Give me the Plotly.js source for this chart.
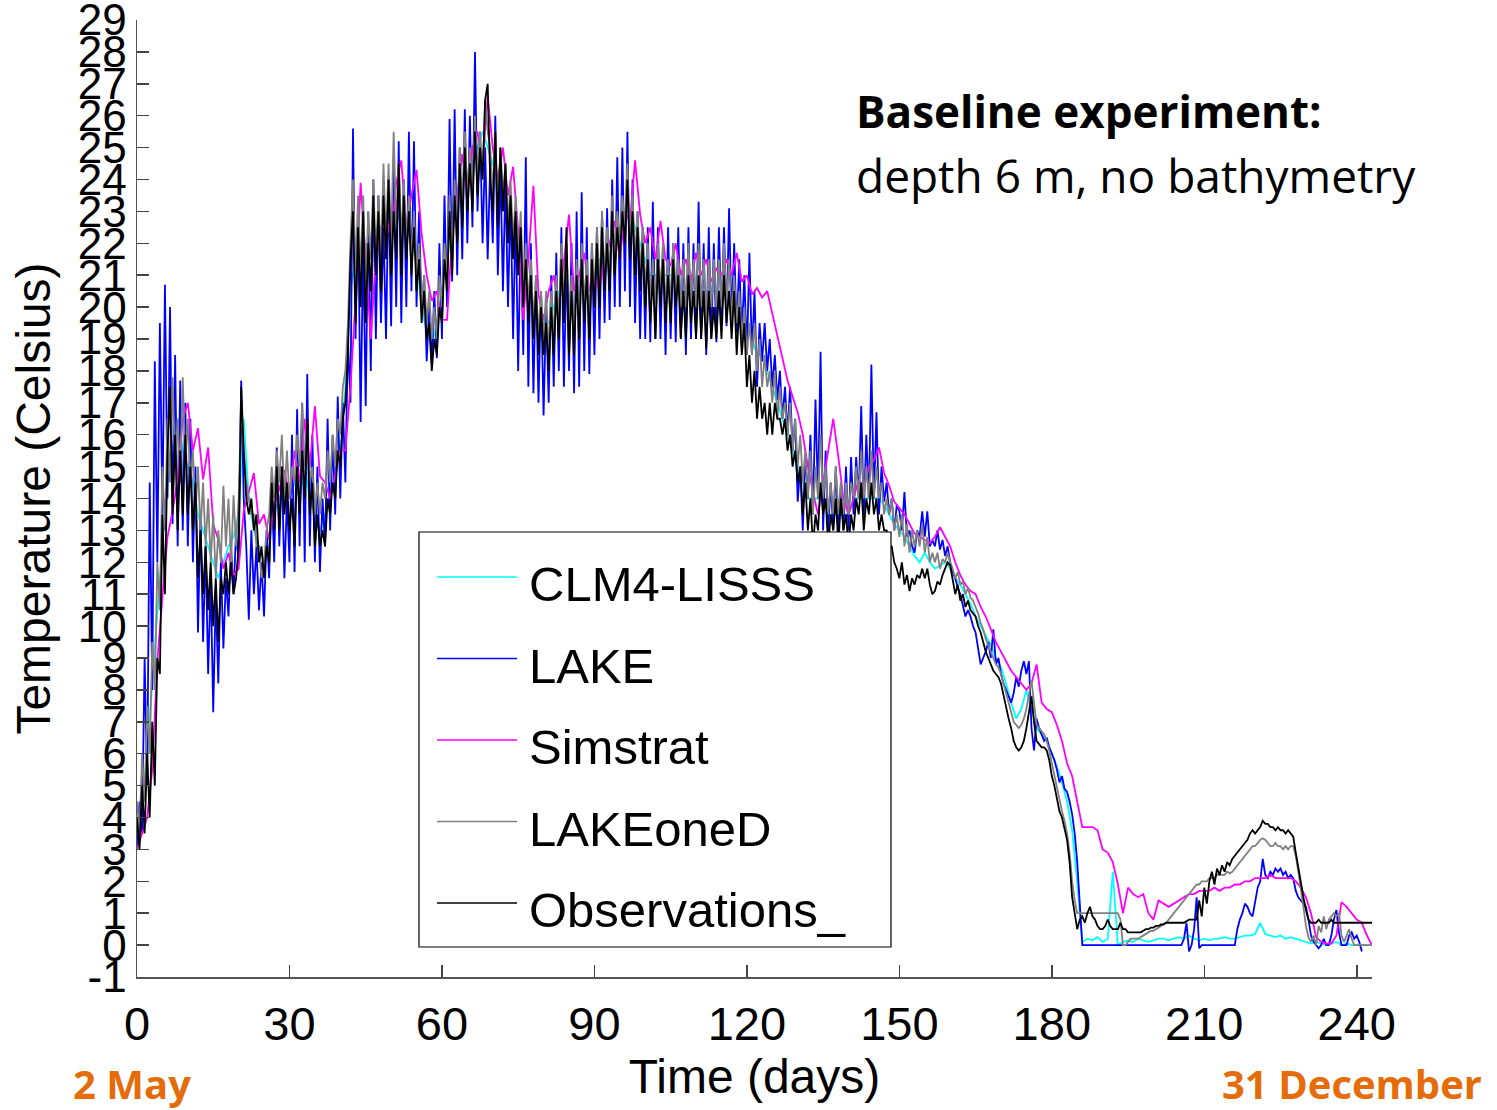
<!DOCTYPE html>
<html>
<head>
<meta charset="utf-8">
<script src="https://cdn.plot.ly/plotly-3.0.1.min.js"></script>
<style>
  html, body { margin: 0; padding: 0; background: #ffffff; }
  #chart { width: 1497px; height: 1110px; }
</style>
</head>
<body>
<div id="chart"></div>
<script>
// Lake surface water temperature, 2 May (day 0) to 31 December (day 243)
const seriesNames = ['CLM4-LISSS', 'LAKE', 'Simstrat', 'LAKEoneD', 'Observations_'];
const seriesColors = ['#00FFFF', '#0000FF', '#FF00FF', '#808080', '#000000'];

const xTickVals = [0, 30, 60, 90, 120, 150, 180, 210, 240];
const yTickVals = [-1, 0, 1, 2, 3, 4, 5, 6, 7, 8, 9, 10, 11, 12, 13, 14, 15, 16, 17, 18, 19, 20, 21, 22, 23, 24, 25, 26, 27, 28, 29];
const yTickText = ['-1', '0', '1', '2', '3', '4', '5', '6', '7', '8', '9', '10', '11', '12', '13', '14', '15', '16', '17', '18', '19', '20', '21', '22', '23', '24', '25', '26', '27', '28', '29'];

// CLM4-LISSS, one value per day
const clm4 = [
  3.5,4.5,6.0,8.3,10.4,12.5,14.5,15.5,16.5,15.5,
  15.0,14.5,13.5,13.0,12.5,12.0,11.5,12.0,12.5,12.8,
  13.5,16.5,14.0,13.0,12.5,12.0,12.5,13.5,14.0,14.5,
  14.0,14.5,14.0,15.0,14.0,13.5,13.0,13.5,14.0,15.0,
  15.5,17.5,20.5,21.5,21.0,22.0,21.5,22.5,22.0,23.0,
  22.5,23.0,22.5,22.5,22.0,21.5,20.0,19.2,18.8,19.5,
  20.5,21.5,22.5,23.5,24.0,24.0,24.5,25.0,25.5,25.0,
  24.5,24.0,23.5,23.0,22.5,22.0,21.0,20.5,20.0,19.5,
  19.5,19.5,20.0,20.5,20.5,20.0,20.0,20.5,20.5,20.5,
  21.0,21.5,21.5,22.0,22.0,22.5,23.0,23.0,22.5,22.0,
  21.5,21.0,21.0,21.0,21.0,21.0,21.0,20.5,20.5,20.5,
  20.5,20.5,20.5,20.5,20.5,20.5,20.5,20.5,20.0,20.0,
  19.5,19.0,18.5,18.5,18.0,17.5,17.0,16.5,16.0,15.5,
  15.0,14.5,14.0,14.0,14.0,14.0,13.5,13.5,13.5,13.5,
  13.5,14.0,14.0,14.0,14.0,14.0,14.0,13.8,13.5,13.2,
  13.0,12.8,12.5,12.2,12.0,12.3,12.0,11.8,11.9,12.0,
  11.8,11.5,11.3,11.0,10.7,10.3,10.0,9.7,9.4,9.0,
  8.7,8.2,7.6,7.1,7.4,8.0,7.4,6.8,6.6,6.4,
  6.0,5.6,5.1,4.5,3.6,2.0,0.1,0.2,0.15,0.25,
  0.1,0.2,2.3,0.0,0.1,0.15,0.1,0.2,0.15,0.1,
  0.15,0.2,0.2,0.15,0.2,0.25,0.2,0.3,0.2,0.15,
  0.2,0.15,0.2,0.2,0.25,0.2,0.2,0.25,0.3,0.3,
  0.35,0.7,0.35,0.3,0.25,0.3,0.2,0.25,0.2,0.15,
  0.1,0.05,0.1,0.05,0.0,0.05,0.1,0.0,0.05,0.0,
  0.0,0.0,0.0,0.0
];

// LAKE, two values per day
const lake = [
  3.0,4.5,3.5,9.0,5.0,14.5,8.0,18.3,12.0,19.5,
  13.5,20.7,14.0,20.0,13.2,18.5,12.5,17.7,13.0,17.0,
  12.5,16.5,12.0,15.0,9.8,13.5,9.5,12.5,8.5,11.5,
  7.3,11.0,8.2,12.0,9.3,11.5,10.3,12.5,11.0,13.0,
  12.0,17.7,14.0,12.5,10.2,13.0,11.0,12.5,10.5,12.0,
  10.3,13.0,11.5,14.5,12.0,15.6,12.5,15.0,11.5,14.0,
  12.0,16.0,11.7,16.8,12.5,17.0,12.0,17.9,12.5,16.0,
  12.0,15.0,11.7,14.0,12.5,16.5,13.0,16.0,13.5,17.2,
  14.0,17.0,14.5,19.0,17.0,25.6,19.0,23.0,16.4,22.0,
  16.9,23.0,18.0,24.0,19.0,23.5,19.5,22.5,19.0,24.0,
  19.4,24.5,20.0,25.2,19.5,24.0,20.0,25.5,20.5,25.2,
  20.0,23.0,19.8,21.0,18.3,20.0,18.2,20.5,18.4,22.0,
  19.0,23.5,20.0,25.9,20.8,26.2,21.0,25.0,21.5,26.2,
  22.0,26.0,22.5,28.0,23.0,25.5,22.0,25.0,21.5,24.5,
  22.0,26.0,21.0,24.5,20.5,24.0,20.0,23.5,19.0,23.0,
  18.0,22.5,18.5,24.7,17.5,22.0,17.3,21.0,17.0,20.5,
  16.6,20.0,17.0,21.0,17.5,21.7,18.0,22.5,17.5,21.5,
  18.0,22.0,17.3,23.0,17.5,23.6,18.0,22.5,17.9,22.0,
  18.5,22.5,19.0,23.0,19.5,23.1,19.6,24.0,20.0,24.7,
  20.0,25.0,20.5,25.5,20.0,24.0,19.5,23.0,19.0,22.5,
  19.0,22.5,18.9,23.3,19.0,22.5,19.0,22.0,18.5,22.5,
  19.0,22.0,18.9,22.5,19.0,22.0,18.5,22.5,19.0,22.0,
  19.0,23.3,19.0,22.0,18.5,22.5,19.0,22.0,18.9,22.5,
  19.5,22.5,19.4,23.1,19.5,22.0,19.2,21.5,19.0,21.0,
  18.5,21.7,18.5,20.5,17.5,19.5,18.3,19.5,18.0,19.0,
  17.5,18.5,17.1,18.0,16.5,17.5,16.0,17.5,15.5,16.5,
  13.9,15.0,13.0,15.4,14.0,16.0,13.5,17.1,14.0,18.6,
  13.0,15.5,13.0,14.5,13.0,15.0,12.8,14.5,13.0,15.0,
  13.0,15.3,13.5,15.3,14.0,16.9,13.5,16.0,14.0,18.2,
  14.0,16.7,13.5,15.0,13.9,14.5,13.5,14.0,13.0,13.8,
  13.6,13.0,14.2,12.8,13.0,12.5,12.3,13.0,12.8,13.6,
  12.8,13.6,12.5,12.7,12.5,13.0,12.4,12.7,12.2,12.5,
  12.0,11.7,11.5,11.2,11.0,10.6,10.3,10.5,10.3,10.0,
  9.8,9.3,8.8,9.0,9.2,9.5,9.0,9.9,8.8,9.0,
  8.5,8.2,8.0,7.8,7.6,7.9,8.4,8.1,8.6,8.9,
  8.5,8.9,6.8,6.1,7.1,6.8,6.6,6.4,6.5,6.2,
  6.0,5.8,5.5,5.1,5.3,4.9,4.8,4.5,4.1,3.5,
  2.6,1.2,0.0,0.0,0.0,0.0,0.0,0.0,0.0,0.0,
  0.0,0.0,0.0,0.0,0.0,0.0,0.0,0.0,0.0,0.0,
  0.0,0.0,0.0,0.0,0.0,0.0,0.0,0.0,0.0,0.0,
  0.0,0.0,0.0,0.0,0.0,0.0,0.0,0.0,0.0,0.0,
  0.0,0.0,0.2,0.7,-0.2,0.0,0.5,1.5,-0.1,0.0,
  0.0,0.0,0.0,0.0,0.0,0.0,0.0,0.0,0.0,0.0,
  0.0,0.0,0.0,0.5,0.8,1.0,1.3,1.2,1.0,0.9,
  1.4,1.8,2.0,2.7,2.2,2.1,2.3,2.2,2.4,2.3,
  2.4,2.2,2.3,2.1,2.2,2.1,1.7,1.5,1.4,1.3,
  1.2,0.8,0.3,0.1,0.0,-0.1,0.0,0.2,0.0,0.0,
  0.3,0.8,1.1,0.4,0.0,0.0,0.0,0.3,0.4,0.2,
  0.3,0.1,-0.2,null,null,null,null
];

// Simstrat, one value per day
const simstrat = [
  3.0,3.5,4.0,5.5,8.9,10.9,12.8,13.6,14.6,16.5,
  17.0,15.5,16.2,14.6,15.6,13.2,12.7,11.8,12.3,11.6,
  11.8,13.6,14.2,14.8,13.2,13.5,12.7,13.8,14.3,14.9,
  14.0,15.5,14.5,16.5,15.0,16.9,14.7,14.5,14.0,14.8,
  15.5,15.5,17.5,20.2,23.9,21.5,19.0,21.6,22.5,23.0,
  22.0,23.9,24.6,22.5,23.5,24.3,22.3,21.0,20.2,20.5,
  19.6,19.6,22.2,23.5,24.8,23.5,25.0,25.5,24.5,26.6,
  25.0,24.0,25.0,23.5,24.4,22.4,19.6,21.5,23.8,20.4,
  19.6,20.5,21.0,20.0,21.5,22.9,20.5,21.0,21.7,20.5,
  21.0,20.5,21.5,22.0,22.7,21.5,23.0,22.7,24.6,22.9,
  22.0,22.5,21.5,22.7,21.5,21.3,22.0,21.0,21.5,20.8,
  21.7,21.0,21.5,20.8,21.2,21.0,21.5,21.0,21.7,20.8,
  21.0,20.4,20.6,20.3,20.5,19.8,19.2,18.5,17.7,17.2,
  16.7,16.0,15.0,14.2,13.5,14.5,15.5,16.5,15.3,14.0,
  13.5,14.0,14.6,14.3,15.0,15.2,15.6,14.8,14.4,13.9,
  13.7,13.5,13.2,12.9,12.8,12.7,12.6,12.8,13.1,12.8,
  12.5,12.0,11.6,11.3,11.1,11.0,10.6,10.3,9.9,9.5,
  9.2,8.9,8.6,8.4,8.2,8.0,8.2,8.8,7.6,7.4,
  7.3,6.9,6.4,5.7,5.3,4.5,3.7,3.7,3.7,3.6,
  3.0,2.9,2.6,1.9,1.0,1.8,1.6,1.5,1.6,1.0,
  0.8,1.4,1.3,1.2,1.3,1.4,1.5,1.6,1.6,1.7,
  1.7,1.7,1.8,1.7,1.8,1.8,1.9,1.9,2.0,2.0,
  2.1,2.1,2.1,2.2,2.1,2.1,2.1,2.1,2.0,1.8,
  1.5,1.0,0.25,0.1,0.05,0.05,0.3,1.35,1.2,1.0,
  0.8,0.7,0.3,0.0
];

// LAKEoneD, two values per day
const lakeOneD = [
  4.5,3.5,6.0,4.5,7.5,6.0,9.5,8.0,12.0,10.5,
  15.0,13.0,16.5,14.5,17.8,15.0,16.5,14.5,17.8,15.0,
  16.5,14.5,15.5,13.5,15.0,13.0,14.5,12.5,14.0,12.0,
  13.5,11.5,13.0,12.0,14.4,12.5,14.0,12.0,14.1,12.5,
  14.0,17.0,15.5,14.5,14.0,13.5,13.5,12.5,12.5,11.5,
  12.0,13.0,13.5,15.0,14.0,15.5,14.5,16.0,14.0,15.5,
  14.0,15.0,14.5,16.0,15.0,17.0,15.0,16.0,14.5,15.0,
  13.5,14.5,13.5,14.5,14.0,15.5,14.5,16.0,15.0,16.5,
  16.0,17.5,18.0,19.5,22.0,24.0,21.0,23.5,21.0,23.5,
  20.5,23.0,21.5,24.0,21.5,23.5,21.5,24.5,22.0,24.5,
  22.0,25.5,22.5,24.5,22.0,24.0,22.0,23.5,21.5,23.0,
  21.0,22.0,20.0,21.0,19.5,20.5,19.0,20.0,19.0,21.0,
  20.0,22.0,21.0,23.5,21.5,24.0,22.5,25.0,23.0,25.5,
  23.5,25.0,23.5,26.0,24.0,25.5,24.0,26.5,25.5,25.0,
  23.5,25.5,23.0,25.0,23.5,24.5,22.5,24.0,22.0,23.5,
  21.5,23.0,20.5,22.0,20.0,21.5,19.5,21.0,19.0,20.5,
  19.0,20.5,18.5,20.5,19.0,21.0,19.5,22.0,20.0,22.0,
  19.5,21.0,19.0,21.5,19.5,22.0,20.0,21.5,19.5,22.0,
  20.5,22.5,20.5,23.0,21.0,22.5,21.0,23.5,21.5,23.0,
  22.0,23.5,22.5,24.5,22.0,23.5,21.5,23.0,21.0,22.5,
  20.5,22.0,20.0,21.5,20.0,22.0,20.5,22.0,20.0,21.5,
  20.0,22.0,20.5,21.5,20.0,21.5,20.0,22.0,20.0,21.5,
  20.0,22.0,20.0,21.5,19.5,21.5,20.0,21.5,20.0,21.5,
  20.0,22.0,20.0,21.5,19.5,21.0,19.5,20.5,19.0,20.0,
  18.5,19.5,18.5,19.5,18.0,19.0,17.5,18.5,17.5,18.0,
  17.0,18.0,16.5,17.5,16.5,17.0,16.0,17.0,15.5,16.5,
  15.0,16.0,14.5,15.5,14.0,15.5,13.5,15.0,14.0,16.0,
  14.0,15.0,13.5,14.5,13.5,15.0,13.5,14.5,13.5,14.5,
  13.5,14.5,14.0,15.0,14.0,15.5,14.0,15.0,14.0,15.5,
  14.0,15.0,14.0,14.5,13.5,14.0,13.5,14.0,13.0,13.5,
  12.8,13.5,12.5,13.2,12.3,13.0,12.5,13.0,12.5,13.2,
  12.3,12.8,12.0,12.3,12.0,12.3,11.8,12.1,12.0,12.3,
  12.0,11.8,11.5,11.7,11.3,11.4,11.0,11.2,10.9,10.8,
  10.6,10.4,10.1,9.9,9.6,9.4,9.2,9.0,8.8,8.7,
  8.5,8.2,7.9,7.6,7.3,7.0,6.9,6.8,6.9,7.1,
  7.4,7.8,8.3,7.6,6.9,6.8,6.7,6.6,6.4,6.1,
  5.7,5.3,4.9,4.5,4.2,3.9,3.5,2.9,2.0,1.4,
  1.0,1.0,1.0,1.0,1.0,1.0,1.0,1.0,1.0,1.0,
  1.0,1.0,1.0,1.0,1.0,1.0,1.0,0.8,0.0,0.0,
  0.1,0.2,0.2,0.2,0.2,0.25,0.3,0.35,0.4,0.45,
  0.45,0.5,0.55,0.6,0.65,0.7,0.8,0.9,1.0,1.1,
  1.2,1.3,1.4,1.5,1.6,1.7,1.8,1.9,1.9,2.0,
  2.0,2.0,2.1,2.1,2.1,2.2,2.2,2.2,2.2,2.3,
  2.25,2.3,2.4,2.5,2.6,2.7,2.8,2.9,3.0,3.1,
  3.1,3.2,3.3,3.35,3.3,3.2,3.1,3.1,3.2,3.1,
  3.1,3.0,3.1,3.0,3.1,3.1,2.8,2.3,1.8,1.2,
  0.6,0.25,0.1,0.3,0.0,0.6,0.4,0.9,0.5,0.8,
  0.9,1.0,0.9,1.0,0.3,0.1,0.3,0.5,0.2,0.0,
  0.0,0.0,0.0,0.0,0.0,0.0,0.0
];

// Observations, two values per day
const observations = [
  4.0,3.0,5.0,3.5,6.0,4.0,7.0,5.0,9.0,8.5,
  13.5,11.0,15.5,17.5,13.5,16.0,13.0,15.5,13.5,16.0,
  13.5,15.0,13.0,14.5,11.5,13.0,11.0,12.5,10.5,12.0,
  10.0,11.5,9.5,11.5,11.0,12.0,11.0,12.0,11.0,11.5,
  12.5,17.5,15.5,14.0,13.5,14.0,13.0,13.5,12.0,12.5,
  11.5,12.5,12.0,14.5,13.0,15.0,13.0,15.0,13.5,14.5,
  13.0,14.0,12.5,15.0,13.5,15.5,14.0,16.5,13.5,14.5,
  12.5,13.5,12.5,13.0,12.5,14.0,13.5,14.5,14.0,15.5,
  15.0,16.5,17.0,18.5,21.5,23.0,19.5,22.5,20.0,23.0,
  19.5,22.0,20.5,23.5,21.0,23.0,20.5,23.5,21.5,24.0,
  21.0,23.0,21.5,24.5,21.0,23.5,21.5,23.0,21.0,22.5,
  20.5,21.5,19.5,20.5,19.0,19.5,18.0,19.0,18.5,20.0,
  19.5,21.5,20.5,23.0,21.0,23.5,22.0,24.5,22.5,25.0,
  23.0,24.5,23.0,25.5,23.5,25.0,24.0,26.5,27.0,24.0,
  23.0,25.5,22.5,25.0,23.0,24.5,22.0,23.5,21.5,23.0,
  21.0,22.5,20.0,21.5,19.5,21.0,19.0,20.5,18.5,20.0,
  18.5,19.5,18.0,20.0,18.5,20.5,19.0,21.5,19.5,22.5,
  18.5,20.5,18.5,21.0,19.0,21.5,19.5,21.0,19.0,21.5,
  20.0,22.0,20.0,22.5,20.5,22.0,20.5,23.0,21.0,22.5,
  21.5,23.0,22.0,24.0,21.5,23.0,21.0,22.5,20.5,22.0,
  20.0,21.5,19.5,21.0,19.0,21.5,20.0,21.5,19.5,21.0,
  19.5,21.5,20.0,21.0,19.0,20.5,19.0,21.0,19.5,20.5,
  19.0,21.0,19.0,20.5,18.7,20.5,19.0,20.0,19.0,20.5,
  19.0,21.0,19.5,20.5,19.0,20.5,18.5,20.0,18.5,19.5,
  17.5,18.5,17.0,18.0,16.5,17.5,16.5,17.0,16.0,17.0,
  16.0,17.0,16.5,16.5,16.0,16.5,15.5,16.0,15.0,15.5,
  14.5,15.0,13.5,14.5,13.0,14.0,12.5,13.5,13.0,14.5,
  13.5,14.0,12.5,13.5,13.0,14.0,12.5,14.0,13.0,13.5,
  12.5,13.5,13.0,14.0,13.5,14.5,13.0,14.0,13.5,14.5,
  13.5,14.0,13.0,13.5,13.0,13.0,12.5,12.5,12.0,11.8,
  11.5,12.0,11.3,11.6,11.1,11.5,11.3,11.6,11.5,11.8,
  11.5,11.8,11.3,11.0,11.1,11.4,11.3,11.6,11.8,12.0,
  11.9,11.5,11.0,11.3,10.8,11.0,10.6,10.8,10.5,10.4,
  10.3,10.0,9.8,9.5,9.2,9.0,8.8,8.6,8.5,8.4,
  8.2,7.8,7.5,7.1,6.8,6.4,6.2,6.1,6.2,6.4,
  6.8,7.3,7.8,7.0,6.4,6.3,6.2,6.2,6.1,5.8,
  5.3,5.0,4.6,4.2,4.0,3.6,3.3,2.6,1.5,1.0,
  0.5,0.8,0.9,0.7,1.0,1.2,0.9,0.8,0.6,0.5,
  0.5,0.6,0.8,0.6,0.5,0.5,0.5,0.7,0.5,0.5,
  0.4,0.4,0.4,0.4,0.4,0.4,0.45,0.5,0.5,0.55,
  0.55,0.6,0.6,0.65,0.65,0.7,0.7,0.7,0.7,0.7,
  0.7,0.7,0.7,0.75,0.8,0.8,0.8,0.8,1.4,0.9,
  1.8,1.3,2.0,2.3,1.9,2.4,2.2,2.5,2.3,2.6,
  2.5,2.7,2.8,2.9,3.0,3.1,3.2,3.3,3.5,3.6,
  3.5,3.6,3.7,3.9,3.8,3.8,3.7,3.7,3.6,3.7,
  3.6,3.6,3.5,3.6,3.5,3.4,2.9,2.4,1.9,1.5,
  1.1,0.8,0.7,0.7,0.7,0.8,0.7,0.7,0.7,0.7,
  0.8,0.7,0.7,0.7,0.7,0.7,0.7,0.7,0.7,0.7,
  0.7,0.7,0.7,0.7,0.7,0.7,0.7
];

// Sampling interval of each record, in days
const seriesValues = [clm4, lake, simstrat, lakeOneD, observations];
const seriesStep = [1, 0.5, 1, 0.5, 0.5];

const FONT = 'Liberation Sans, Arial, Helvetica, sans-serif';
const NOTE_FONT = 'Open Sans, Noto Sans, sans-serif';

const traces = seriesValues.map((vals, k) => ({
  type: 'scatter',
  mode: 'lines',
  name: seriesNames[k],
  x: vals.map((_, i) => i * seriesStep[k]),
  y: vals,
  line: { color: seriesColors[k], width: 1.8 },
  connectgaps: false,
  hoverinfo: 'x+y+name'
}));

// Page geometry of the plotting box (pixels)
const W = 1497, H = 1110;
const box = { left: 137, right: 1372, top: 20, bottom: 977 };
const px = v => (v - box.left) / (box.right - box.left);
const py = v => (box.bottom - v) / (box.bottom - box.top);

// Framed key drawn over the curves
const key = { x0: 419, x1: 891, y0: 532, y1: 947, lineX0: 437, lineX1: 517, textX: 527, firstRow: 584, rowGap: 81.5, lineLift: 7 };
const shapes = [{
  type: 'rect', xref: 'paper', yref: 'paper', layer: 'above',
  x0: px(key.x0), x1: px(key.x1), y0: py(key.y1), y1: py(key.y0),
  fillcolor: '#ffffff', line: { color: '#000000', width: 1.2 }
}];
const annotations = [];
seriesNames.forEach((name, k) => {
  const rowY = key.firstRow + k * key.rowGap;
  shapes.push({
    type: 'line', xref: 'paper', yref: 'paper', layer: 'above',
    x0: px(key.lineX0), x1: px(key.lineX1), y0: py(rowY - key.lineLift), y1: py(rowY - key.lineLift),
    line: { color: seriesColors[k], width: 1.5 }
  });
  annotations.push({
    xref: 'paper', yref: 'paper', x: px(key.textX), y: py(rowY),
    xanchor: 'left', yanchor: 'middle', showarrow: false,
    text: name, font: { family: FONT, size: 49, color: '#000000' }
  });
});

annotations.push(
  { xref: 'paper', yref: 'paper', x: px(854), y: py(111), xanchor: 'left', yanchor: 'middle', showarrow: false,
    text: '<b>Baseline experiment:</b>', font: { family: NOTE_FONT, size: 44, color: '#000000' } },
  { xref: 'paper', yref: 'paper', x: px(854), y: py(175), xanchor: 'left', yanchor: 'middle', showarrow: false,
    text: 'depth 6 m, no bathymetry', font: { family: NOTE_FONT, size: 46, color: '#000000' } },
  { xref: 'paper', yref: 'paper', x: px(132), y: py(1083), xanchor: 'center', yanchor: 'middle', showarrow: false,
    text: '<b>2 May</b>', font: { family: NOTE_FONT, size: 40, color: '#E46C0A' } },
  { xref: 'paper', yref: 'paper', x: px(1352), y: py(1083), xanchor: 'center', yanchor: 'middle', showarrow: false,
    text: '<b>31 December</b>', font: { family: NOTE_FONT, size: 40, color: '#E46C0A' } }
);

const axisCommon = {
  showline: true, linecolor: '#555555', linewidth: 1.5,
  ticks: 'inside', ticklen: 12, tickwidth: 1.5, tickcolor: '#444444',
  showgrid: false, zeroline: false, mirror: false, automargin: false, fixedrange: true,
  ticklabeloverflow: 'allow'
};

const layout = {
  width: W, height: H,
  margin: { l: box.left, r: W - box.right, t: box.top, b: H - box.bottom },
  paper_bgcolor: '#ffffff', plot_bgcolor: '#ffffff',
  showlegend: false,
  font: { family: FONT, color: '#000000' },
  xaxis: Object.assign({}, axisCommon, {
    range: [0, 243], tickmode: 'array', tickvals: xTickVals,
    tickfont: { family: FONT, size: 47, color: '#000000' },
    ticklabelstandoff: 5,
    title: { text: 'Time (days)', font: { family: FONT, size: 48, color: '#000000' }, standoff: 6 }
  }),
  yaxis: Object.assign({}, axisCommon, {
    range: [-1, 29.0001], tickmode: 'array', tickvals: yTickVals, ticktext: yTickText,
    tickfont: { family: FONT, size: 44, color: '#000000' },
    ticklabelstandoff: 0,
    title: { text: 'Temperature (Celsius)', font: { family: FONT, size: 48, color: '#000000' }, standoff: 12 }
  }),
  shapes: shapes,
  annotations: annotations
};

Plotly.newPlot('chart', traces, layout, { displayModeBar: false, staticPlot: true });
</script>
</body>
</html>
